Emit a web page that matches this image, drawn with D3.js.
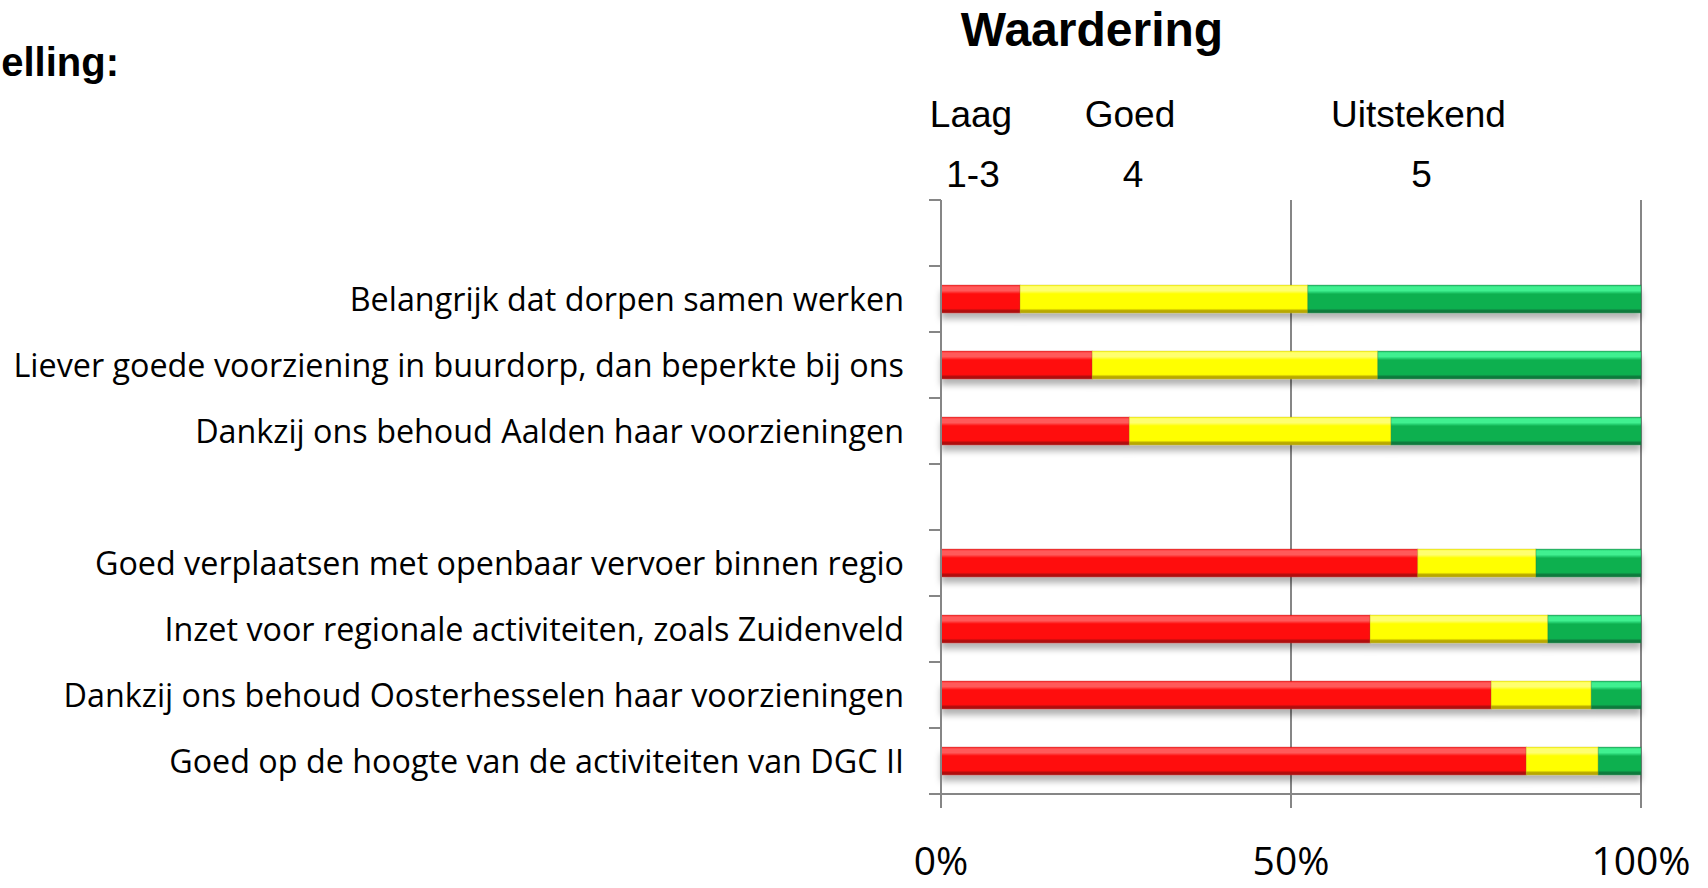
<!DOCTYPE html>
<html>
<head>
<meta charset="utf-8">
<script src="https://cdn.jsdelivr.net/npm/d3@7"></script>
<style>
  body { margin: 0; background: #fff; overflow: hidden; }
  svg { display: block; }
</style>
</head>
<body>
<svg id="chart" width="1708" height="888"></svg>
<script>
// categories, top to bottom (empty strings are spacer rows)
const labels = [
    '',
    'Belangrijk dat dorpen samen werken',
    'Liever goede voorziening in buurdorp, dan beperkte bij ons',
    'Dankzij ons behoud Aalden haar voorzieningen',
    '',
    'Goed verplaatsen met openbaar vervoer binnen regio',
    'Inzet voor regionale activiteiten, zoals Zuidenveld',
    'Dankzij ons behoud Oosterhesselen haar voorzieningen',
    'Goed op de hoogte van de activiteiten van DGC II'
];
// share of answers (%) per score group
const laag = [0, 11.3, 21.6, 26.9, 0, 68.1, 61.3, 78.6, 83.6];
const goed = [0, 41.1, 40.8, 37.4, 0, 16.9, 25.4, 14.3, 10.3];
const uitstekend = [0, 47.6, 37.6, 35.7, 0, 15.0, 13.3, 7.1, 6.1];

const seriesKeys = ['laag', 'goed', 'uitstekend'];
const headerNames = ['Laag', 'Goed', 'Uitstekend'];
const headerScores = ['1-3', '4', '5'];
const xTicks = [0, 0.5, 1];

const svg = d3.select('#chart');
const margin = { left: 941, right: 67, top: 200, bottom: 94 };
const width = 1708 - margin.left - margin.right;
const height = 888 - margin.top - margin.bottom;

const rows = labels.map((label, i) => ({
    id: i,
    label: label,
    laag: laag[i],
    goed: goed[i],
    uitstekend: uitstekend[i]
}));

const stacked = d3.stack()
    .keys(seriesKeys)
    .offset(d3.stackOffsetExpand)(rows.map(r => (r.label ? r : { ...r, laag: 0, goed: 0, uitstekend: 1e-9 })));

const x = d3.scaleLinear().domain([0, 1]).range([margin.left, margin.left + width]);
const y = d3.scaleBand()
    .domain(rows.map(r => r.id))
    .range([margin.top, margin.top + height])
    .paddingInner(0.58)
    .paddingOuter(0.29);

const colors = {
    laag: { light: '#ff5a5a', main: '#ff0a0a', dark: '#b01010' },
    goed: { light: '#ffff70', main: '#ffff00', dark: '#b8a800' },
    uitstekend: { light: '#40f090', main: '#0cb050', dark: '#0a7a3c' }
};

const defs = svg.append('defs');
seriesKeys.forEach(k => {
    const c = colors[k];
    const g = defs.append('linearGradient')
        .attr('id', 'grad-' + k)
        .attr('x1', 0).attr('y1', 0).attr('x2', 0).attr('y2', 1);
    [[0, c.main], [0.06, c.light], [0.2, c.light], [0.32, c.main], [0.84, c.main], [0.92, c.dark], [1, c.dark]]
        .forEach(([o, col]) => g.append('stop').attr('offset', o).attr('stop-color', col));
});
const shadow = defs.append('filter').attr('id', 'shadow')
    .attr('x', '-2%').attr('y', '-20%').attr('width', '104%').attr('height', '190%');
shadow.append('feDropShadow')
    .attr('dx', 0).attr('dy', 6).attr('stdDeviation', 3)
    .attr('flood-color', '#000').attr('flood-opacity', 0.3);

// gridlines at 50% and 100%
svg.append('g')
    .selectAll('line')
    .data(xTicks.slice(1))
    .enter()
    .append('line')
    .attr('x1', d => x(d)).attr('x2', d => x(d))
    .attr('y1', margin.top).attr('y2', margin.top + height + 14)
    .attr('stroke', '#868686').attr('stroke-width', 2);

// bars
const barRows = svg.append('g')
    .selectAll('g.row')
    .data(rows.filter(r => r.label))
    .enter()
    .append('g')
    .classed('row', true)
    .attr('filter', 'url(#shadow)');

barRows.each(function(r) {
    const row = d3.select(this);
    stacked.forEach(s => {
        const d = s[r.id];
        row.append('rect')
            .attr('x', x(d[0]))
            .attr('y', y(r.id))
            .attr('width', x(d[1]) - x(d[0]))
            .attr('height', y.bandwidth())
            .attr('fill', `url(#grad-${s.key})`)
            .attr('stroke', colors[s.key].dark)
            .attr('stroke-opacity', 0.35)
            .attr('stroke-width', 1);
    });
});

// category axis
const axisColor = '#868686';
const yAxis = svg.append('g');
yAxis.append('line')
    .attr('x1', margin.left).attr('x2', margin.left)
    .attr('y1', margin.top).attr('y2', margin.top + height + 14)
    .attr('stroke', axisColor).attr('stroke-width', 2);
yAxis.selectAll('line.tick')
    .data(d3.range(labels.length + 1))
    .enter()
    .append('line')
    .classed('tick', true)
    .attr('x1', margin.left - 12).attr('x2', margin.left)
    .attr('y1', i => margin.top + i * y.step())
    .attr('y2', i => margin.top + i * y.step())
    .attr('stroke', axisColor).attr('stroke-width', 2);
svg.append('line')
    .attr('x1', margin.left).attr('x2', x(1))
    .attr('y1', margin.top + height).attr('y2', margin.top + height)
    .attr('stroke', axisColor).attr('stroke-width', 2);

const catLabels = yAxis.selectAll('text')
    .data(rows.filter(r => r.label))
    .enter()
    .append('text')
    .attr('x', margin.left - 37)
    .attr('y', r => y(r.id) + y.bandwidth() / 2)
    .attr('dy', '0.36em')
    .attr('text-anchor', 'end')
    .style('font-family', '"Open Sans", sans-serif')
    .style('font-size', '30px')
    .attr('fill', '#000')
    .text(r => r.label);

// fit the labels to the width they take in the reference
let longest = 0;
catLabels.each(function() { longest = Math.max(longest, this.getComputedTextLength()); });
catLabels.style('font-size', (30 * 891 / longest) + 'px');

// value axis labels
svg.append('g')
    .selectAll('text')
    .data(xTicks)
    .enter()
    .append('text')
    .attr('x', d => x(d))
    .attr('y', 875)
    .attr('text-anchor', 'middle')
    .style('font-family', '"Open Sans", sans-serif')
    .style('font-size', '39px')
    .attr('fill', '#000')
    .text(d3.format('.0%'));

// headers
svg.append('text')
    .attr('x', 1092).attr('y', 46)
    .attr('text-anchor', 'middle')
    .style('font-family', '"Liberation Sans", Arial, sans-serif')
    .style('font-size', '48px')
    .style('font-weight', 'bold')
    .text('Waardering');

// only the tail of this slide heading is visible in the picture
svg.append('text')
    .attr('x', 119).attr('y', 76)
    .attr('text-anchor', 'end')
    .style('font-family', '"Liberation Sans", Arial, sans-serif')
    .style('font-size', '40px')
    .style('font-weight', 'bold')
    .text('elling:');

const headerX = [971, 1130, 1418.5];
const scoreX = [973, 1133, 1421.5];
svg.append('g')
    .selectAll('text')
    .data(headerNames)
    .enter()
    .append('text')
    .attr('x', (d, i) => headerX[i])
    .attr('y', 127)
    .attr('text-anchor', 'middle')
    .style('font-family', '"Liberation Sans", Arial, sans-serif')
    .style('font-size', '37px')
    .text(d => d);

svg.append('g')
    .selectAll('text')
    .data(headerScores)
    .enter()
    .append('text')
    .attr('x', (d, i) => scoreX[i])
    .attr('y', 187)
    .attr('text-anchor', 'middle')
    .style('font-family', '"Liberation Sans", Arial, sans-serif')
    .style('font-size', '37px')
    .text(d => d);
</script>
</body>
</html>
